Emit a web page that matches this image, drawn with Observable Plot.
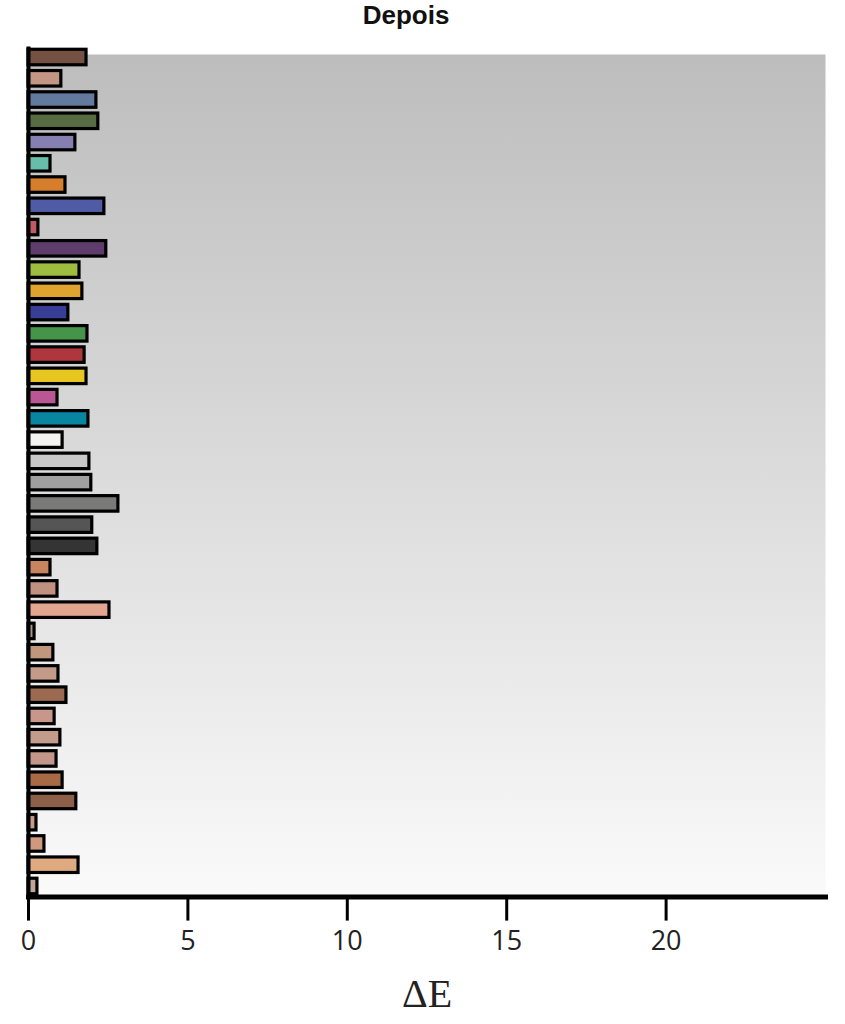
<!DOCTYPE html>
<html>
<head>
<meta charset="utf-8">
<script src="https://cdn.jsdelivr.net/npm/d3@7"></script>
<script src="https://cdn.jsdelivr.net/npm/@observablehq/plot@0.6"></script>
<style>
  body { margin: 0; background: #fff; }
  #title { height: 38px; line-height: 38px; text-align: center; padding-right: 33px; font: bold 26px "Liberation Sans", Arial, sans-serif; color: #111; }
  svg { display: block; }
</style>
</head>
<body>
<div id="title">Depois</div>
<div id="chart"></div>
<script>
const patches = [
  "Dark skin","Light skin","Blue sky","Foliage","Blue flower","Bluish green","Orange","Purplish blue",
  "Moderate red","Purple","Yellow green","Orange yellow","Blue","Green","Red","Yellow","Magenta","Cyan",
  "White","Neutral 8","Neutral 6.5","Neutral 5","Neutral 3.5","Black",
  "Pele 1","Pele 2","Pele 3","Pele 4","Pele 5","Pele 6","Pele 7","Pele 8",
  "Pele 9","Pele 10","Pele 11","Pele 12","Pele 13","Pele 14","Pele 15","Pele 16"
];
const deltaE = [
  1.82, 1.03, 2.13, 2.19, 1.47, 0.69, 1.16, 2.38,
  0.31, 2.44, 1.60, 1.69, 1.25, 1.85, 1.76, 1.82, 0.91, 1.88,
  1.07, 1.91, 1.97, 2.82, 2.00, 2.16,
  0.69, 0.91, 2.54, 0.19, 0.78, 0.94, 1.19, 0.82,
  1.00, 0.88, 1.07, 1.50, 0.25, 0.50, 1.57, 0.28
];
const patchColors = [
  "#735244","#c29682","#627a9d","#576c43","#8580b1","#67bdaa","#d67e2c","#505ba6",
  "#c15a63","#5e3c6c","#9dbc40","#e0a32e","#383d96","#469449","#af363c","#e7c71f","#bb5695","#0885a1",
  "#f3f3f2","#c8c8c8","#a0a0a0","#7a7a79","#555555","#343434",
  "#c8845e","#c09080","#e2a690","#b09080","#c0967c","#c49a88","#9c6a50","#c8968a",
  "#c49c8c","#c4968a","#a86a44","#8c6048","#c89a8c","#d0987c","#e0aa80","#c0a498"
];
const xTicks = [0, 5, 10, 15, 20];

const data = patches.map((p, i) => ({patch: p, value: deltaE[i], color: patchColors[i]}));

const svg = Plot.plot({
  width: 845,
  height: 986,
  marginLeft: 28,
  marginRight: 20,
  marginTop: 8.4,
  marginBottom: 127.4,
  style: {background: "transparent", overflow: "visible"},
  x: {domain: [0, 25]},
  y: {domain: patches, paddingInner: 0.27, paddingOuter: 0.135, round: false, axis: null},
  marks: [
    Plot.frame({fill: "url(#bggrad)", stroke: null, insetTop: 7.6}),
    Plot.barX(data, {x: "value", y: "patch", fill: "color", stroke: "black", strokeWidth: 3.2}),
    Plot.ruleX([0], {stroke: "black", strokeWidth: 4}),
    Plot.frame({anchor: "bottom", stroke: "black", strokeWidth: 5}),
    Plot.axisX({ticks: xTicks, tickSize: 24, tickPadding: 10, strokeWidth: 3, stroke: "black",
      fontSize: 27, fontFamily: "'Open Sans', 'Noto Sans', sans-serif", fill: "#222", label: null}),
    Plot.text(["ΔE"], {frameAnchor: "bottom", dy: 110, fontSize: 40,
      fontFamily: "'Liberation Serif', 'DejaVu Serif', serif", fill: "#222"})
  ]
});

d3.select(svg).insert("defs", ":first-child").html(
  '<linearGradient id="bggrad" x1="0" y1="0" x2="0" y2="1">' +
  '<stop offset="0" stop-color="#bdbdbd"/><stop offset="1" stop-color="#fafafa"/></linearGradient>'
);
document.getElementById("chart").appendChild(svg);
</script>
</body>
</html>
